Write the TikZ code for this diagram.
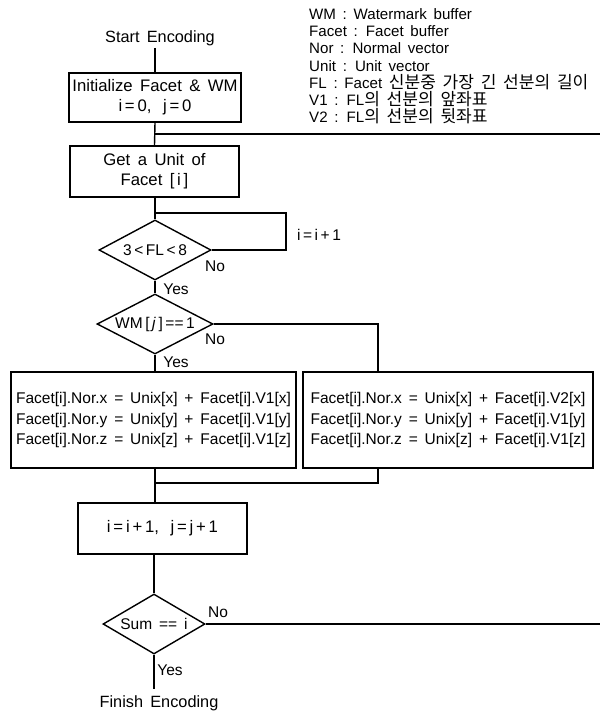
\documentclass[tikz,border=0pt]{standalone}
\usepackage{fontspec}
\setmainfont[WordSpace=1.6]{Liberation Sans}
\newfontfamily\kr[Scale=1.13]{Noto Sans CJK KR}
\usetikzlibrary{shapes.geometric}
\begin{document}
\begin{tikzpicture}[x=1pt,y=-1pt,
  conn/.style={line width=1.4pt},
  box/.style={draw, line width=1.4pt, inner sep=0pt, align=center, font=\fontsize{16.7}{20}\selectfont},
  bigbox/.style={draw, line width=1.4pt, inner sep=0pt, align=center, font=\fontsize{15.5}{20.5}\selectfont},
  dia/.style={draw, diamond, line width=1.4pt, inner sep=0pt, font=\fontsize{15.5}{18}\selectfont},
  lbl/.style={inner sep=0pt, font=\fontsize{15.5}{18}\selectfont},
  term/.style={inner sep=2pt, font=\fontsize{16.3}{19}\selectfont},
  leg/.style={inner sep=0pt, anchor=base west, font=\fontsize{15.1}{17.2}\selectfont}]
\useasboundingbox (0,0) rectangle (600,711);

% legend
\node[leg] (l1) at (309,19.5) {WM : Watermark buffer};
\node[leg] (l2) at (309,36.7) {Facet : Facet buffer};
\node[leg] (l3) at (309,53.9) {Nor : Normal vector};
\node[leg] (l4) at (309,71.1) {Unit : Unit vector};
\node[leg] (l5) at (309,88.3) {FL : Facet {\kr 신분중} {\kr 가장} {\kr 긴} {\kr 선분의} {\kr 길이}};
\node[leg] (l6) at (309,105.5) {V1 : FL{\kr 의} {\kr 선분의} {\kr 앞좌표}};
\node[leg] (l7) at (309,122.7) {V2 : FL{\kr 의} {\kr 선분의} {\kr 뒷좌표}};

% nodes
\node[term] (start) at (160,38) {Start Encoding};
\node[box, minimum width=172, minimum height=49] (init) at (155,97.5)
  {Initialize Facet \& WM\\ i\,=\,0,\hspace{0.7em}j\,=\,0};
\node[box, minimum width=169, minimum height=51] (get) at (154.5,171.5)
  {Get a Unit of\\Facet [\,i\,]};
\node[dia, minimum width=112, minimum height=60] (d1) at (155,250) {\makebox[0pt]{3\,<\,FL\,<\,8}};
\node[lbl] (inc) at (319,235) {i\,=\,i\,+\,1};
\node[lbl] (no1) at (215,266) {No};
\node[lbl] (yes1) at (176,289) {Yes};
\node[dia, minimum width=116, minimum height=60] (d2) at (155,324) {\makebox[0pt]{WM\,[\,\textit{j}\,]\,==\,1}};
\node[lbl] (no2) at (215,339) {No};
\node[lbl] (yes2) at (176,362) {Yes};
\node[bigbox, minimum width=285, minimum height=96] (lb) at (153.5,420)
  {Facet[i].Nor.x = Unix[x] + Facet[i].V1[x]\\
   Facet[i].Nor.y = Unix[y] + Facet[i].V1[y]\\
   Facet[i].Nor.z = Unix[z] + Facet[i].V1[z]};
\node[bigbox, minimum width=290, minimum height=96] (rb) at (448,420)
  {Facet[i].Nor.x = Unix[x] + Facet[i].V2[x]\\
   Facet[i].Nor.y = Unix[y] + Facet[i].V1[y]\\
   Facet[i].Nor.z = Unix[z] + Facet[i].V1[z]};
\node[box, minimum width=169, minimum height=51] (bb) at (162.5,528.5)
  {i\,=\,i\,+\,1,\hspace{0.7em}j\,=\,j\,+\,1};
\node[dia, minimum width=102, minimum height=60] (d3) at (154,624) {\makebox[0pt]{Sum == i}};
\node[lbl] (no3) at (218,612) {No};
\node[lbl] (yes3) at (170,670) {Yes};
\node[term] (fin) at (159,703) {Finish Encoding};

% coordinates
\coordinate (j1) at (155,134);
\coordinate (e1) at (600,134);
\coordinate (j2) at (155,213);
\coordinate (k1) at (286,213);
\coordinate (k4) at (378,324);
\coordinate (j3) at (155,483);
\coordinate (k3) at (378,483);
\coordinate (e2) at (600,624);
\coordinate (f1) at (154,689);

% connectors
\draw[conn] (init.north |- start.south) -- (init.north);
\draw[conn] (init.south) -- (get.north);
\draw[conn] (j1) -- (e1);
\draw[conn] (get.south -| d1.north) -- (d1.north);
\draw[conn] (j2) -- (k1) -- (k1 |- d1.east) -- (d1.east);
\draw[conn] (d1.south) -- (d2.north);
\draw[conn] (d2.east) -- (k4) -- (k4 |- rb.north);
\draw[conn] (d2.south) -- (d2.south |- lb.north);
\draw[conn] (j3 |- lb.south) -- (j3 |- bb.north);
\draw[conn] (k3 |- rb.south) -- (k3) -- (j3);
\draw[conn] (d3.north |- bb.south) -- (d3.north);
\draw[conn] (d3.east) -- (e2);
\draw[conn] (d3.south) -- (f1);
\end{tikzpicture}
\end{document}
